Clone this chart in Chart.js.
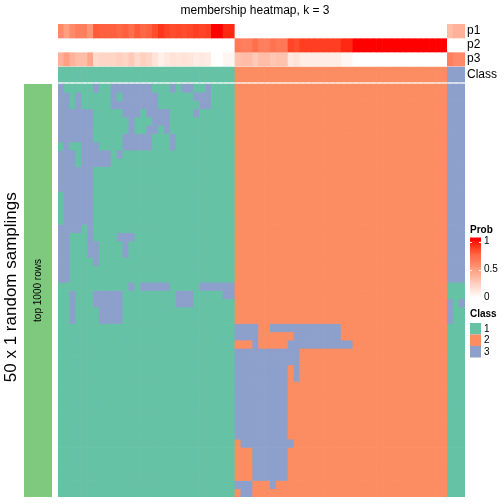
<!DOCTYPE html>
<html>
<head>
<meta charset="utf-8">
<script src="https://cdn.jsdelivr.net/npm/chart.js@4.4.0/dist/chart.umd.min.js"></script>
<style>
  html, body { margin: 0; padding: 0; background: #fff; }
  #wrap { position: relative; width: 504px; height: 504px; }
  #heat { position: absolute; left: 0; top: 0; }
  #side { position: absolute; left: 24px; top: 84px; }
</style>
</head>
<body>
<div id="wrap">
  <canvas id="heat" width="504" height="504"></canvas>
  <canvas id="side" width="28" height="413"></canvas>
</div>
<script>
// consensus class of each sample (column order of the heatmap)
const columnClass = [
  1,1,1,1,1,1,1,1,1,1, 1,1,1,1,1,1,1,1,1,1, 1,1,1,1,1,1,1,1,1,1,
  2,2,2,2,2,2,2,2,2,2, 2,2,2,2,2,2,2,2,2,2, 2,2,2,2,2,2,2,2,2,2, 2,2,2,2,2,2,
  3,3,3
];

// membership probabilities per sample
const p1 = [
  0.60,0.50,0.60,0.65,0.65,0.55,0.80,0.78,0.78,0.78, 0.75,0.78,0.72,0.80,0.75,0.78,0.85,0.92,0.88,0.85,
  0.87,0.85,0.87,0.90,0.88,0.90,1.00,1.00,0.95,0.95,
  0,0,0,0,0,0,0,0,0,0, 0,0,0,0,0,0,0,0,0,0, 0,0,0,0,0,0,0,0,0,0, 0,0,0,0,0,0,
  0.35,0.40,0.40
];
const p2 = [
  0,0,0,0,0,0,0,0,0,0, 0,0,0,0,0,0,0,0,0,0, 0,0,0,0,0,0,0,0,0,0,
  0.68,0.65,0.65,0.72,0.65,0.65,0.70,0.68,0.68,0.88, 0.85,0.90,0.90,0.90,0.90,0.90,0.90,0.90,0.95,0.95,
  1,1,1,1,1,1,1,1,1,1, 1,1,1,1,1,1,
  0,0,0
];
const p3 = [
  0.40,0.50,0.40,0.35,0.35,0.45,0.20,0.22,0.22,0.22, 0.25,0.22,0.28,0.20,0.25,0.22,0.15,0.08,0.12,0.15,
  0.13,0.15,0.13,0.10,0.12,0.10,0.00,0.00,0.05,0.05,
  0.32,0.35,0.35,0.28,0.35,0.35,0.30,0.32,0.32,0.12, 0.15,0.10,0.10,0.10,0.10,0.10,0.10,0.10,0.05,0.05,
  0,0,0,0,0,0,0,0,0,0, 0,0,0,0,0,0,
  0.65,0.60,0.60
];

// class assigned in each of the 50 random samplings, run-length coded [class, count] per row
const samplingRuns = [
  [[3,1],[1,5],[3,1],[1,2],[3,7],[1,3],[3,1],[1,1],[3,2],[1,2],[3,1],[1,4],[2,36],[3,3]],
  [[3,2],[1,1],[3,1],[1,5],[3,1],[1,1],[3,6],[1,6],[3,3],[1,4],[2,36],[3,3]],
  [[3,2],[1,1],[3,1],[1,5],[3,8],[1,7],[3,2],[1,4],[2,36],[3,3]],
  [[3,6],[1,5],[3,3],[1,1],[3,4],[1,4],[3,1],[1,6],[2,36],[3,3]],
  [[3,6],[1,6],[3,1],[1,3],[3,3],[1,11],[2,36],[3,3]],
  [[3,6],[1,6],[3,1],[1,2],[3,2],[1,1],[3,1],[1,11],[2,36],[3,3]],
  [[3,6],[1,5],[3,5],[1,3],[3,1],[1,10],[2,36],[3,3]],
  [[1,1],[3,1],[1,2],[3,3],[1,4],[3,5],[1,3],[3,1],[1,10],[2,36],[3,3]],
  [[3,3],[1,1],[3,5],[1,1],[3,1],[1,19],[2,36],[3,3]],
  [[3,3],[1,1],[3,5],[1,21],[2,36],[3,3]],
  [[3,6],[1,24],[2,36],[3,3]],
  [[3,6],[1,24],[2,36],[3,3]],
  [[3,6],[1,24],[2,36],[3,3]],
  [[1,1],[3,5],[1,24],[2,36],[3,3]],
  [[1,1],[3,5],[1,24],[2,36],[3,3]],
  [[1,1],[3,5],[1,24],[2,36],[3,3]],
  [[1,1],[3,5],[1,24],[2,36],[3,3]],
  [[3,4],[1,1],[3,1],[1,24],[2,36],[3,3]],
  [[3,2],[1,3],[3,1],[1,4],[3,3],[1,17],[2,36],[3,3]],
  [[3,2],[1,3],[3,2],[1,4],[3,1],[1,18],[2,36],[3,3]],
  [[3,2],[1,3],[3,2],[1,4],[3,1],[1,18],[2,36],[3,3]],
  [[3,2],[1,4],[3,1],[1,23],[2,36],[3,3]],
  [[3,2],[1,28],[2,36],[3,3]],
  [[3,2],[1,28],[2,36],[3,3]],
  [[1,12],[3,1],[1,1],[3,5],[1,5],[3,6],[2,36],[1,3]],
  [[1,2],[3,1],[1,3],[3,5],[1,9],[3,3],[1,5],[3,2],[2,36],[1,3]],
  [[1,2],[3,1],[1,3],[3,5],[1,9],[3,3],[1,7],[2,36],[3,1],[1,1],[3,1]],
  [[1,2],[3,1],[1,4],[3,4],[1,19],[2,36],[3,1],[1,2]],
  [[1,2],[3,1],[1,4],[3,4],[1,19],[2,36],[3,1],[1,2]],
  [[1,30],[3,4],[2,2],[3,12],[2,18],[1,3]],
  [[1,30],[3,4],[2,6],[3,8],[2,18],[1,3]],
  [[1,30],[2,3],[3,1],[2,5],[3,11],[2,16],[1,3]],
  [[1,30],[3,11],[2,25],[1,3]],
  [[1,30],[3,11],[2,25],[1,3]],
  [[1,30],[3,9],[2,1],[3,1],[2,25],[1,3]],
  [[1,30],[3,9],[2,1],[3,1],[2,25],[1,3]],
  [[1,30],[3,9],[2,27],[1,3]],
  [[1,30],[3,9],[2,27],[1,3]],
  [[1,30],[3,9],[2,27],[1,3]],
  [[1,30],[3,9],[2,27],[1,3]],
  [[1,30],[3,9],[2,27],[1,3]],
  [[1,30],[3,9],[2,27],[1,3]],
  [[1,30],[3,9],[2,27],[1,3]],
  [[1,30],[2,1],[3,9],[2,26],[1,3]],
  [[1,30],[2,3],[3,6],[2,27],[1,3]],
  [[1,30],[2,3],[3,6],[2,27],[1,3]],
  [[1,30],[2,3],[3,6],[2,27],[1,3]],
  [[1,30],[2,3],[3,6],[2,27],[1,3]],
  [[1,30],[3,3],[2,3],[3,1],[2,29],[1,3]],
  [[1,30],[2,1],[3,2],[2,33],[1,3]]
];

const classLevels = ['1', '2', '3'];
const probTicks = [0, 0.5, 1];

// ---- styles ----
const classColors = { 1: '#66C2A5', 2: '#FC8D62', 3: '#8DA0CB' };
const sideColor = '#7FC97F';
const FONT = '"Liberation Sans", Arial, Helvetica, sans-serif';

// white -> red ramp interpolated in LAB (like circlize::colorRamp2)
function toLin(c) { c /= 255; return c <= 0.04045 ? c / 12.92 : Math.pow((c + 0.055) / 1.055, 2.4); }
function fromLin(c) {
  const v = c <= 0.0031308 ? 12.92 * c : 1.055 * Math.pow(c, 1 / 2.4) - 0.055;
  return Math.round(Math.max(0, Math.min(1, v)) * 255);
}
function rgbToLab([r, g, b]) {
  const R = toLin(r), G = toLin(g), B = toLin(b);
  const X = (0.4124 * R + 0.3576 * G + 0.1805 * B) / 0.95047;
  const Y = 0.2126 * R + 0.7152 * G + 0.0722 * B;
  const Z = (0.0193 * R + 0.1192 * G + 0.9505 * B) / 1.08883;
  const f = t => t > 216 / 24389 ? Math.cbrt(t) : (24389 / 27 * t + 16) / 116;
  const fx = f(X), fy = f(Y), fz = f(Z);
  return [116 * fy - 16, 500 * (fx - fy), 200 * (fy - fz)];
}
function labToRgb([L, a, b]) {
  const fy = (L + 16) / 116, fx = fy + a / 500, fz = fy - b / 200;
  const inv = t => t * t * t > 216 / 24389 ? t * t * t : (116 * t - 16) / (24389 / 27);
  const X = inv(fx) * 0.95047, Y = inv(fy), Z = inv(fz) * 1.08883;
  const R = 3.2406 * X - 1.5372 * Y - 0.4986 * Z;
  const G = -0.9689 * X + 1.8758 * Y + 0.0415 * Z;
  const B = 0.0557 * X - 0.2040 * Y + 1.0570 * Z;
  return [fromLin(R), fromLin(G), fromLin(B)];
}
const labLo = rgbToLab([255, 255, 255]), labHi = rgbToLab([255, 0, 0]);
function probColor(v) {
  const lab = labLo.map((l, i) => l + (labHi[i] - l) * v);
  const [r, g, b] = labToRgb(lab);
  return `rgb(${r},${g},${b})`;
}

// ---- layout (y in heatmap-row units, row 0 at top) ----
const bands = {
  p1: [-7.264, -5.569],
  p2: [-5.569, -3.874],
  p3: [-3.874, -2.179],
  Class: [-2.058, -0.242]
};

const sampleLabels = columnClass.map((_, i) => 'S' + (i + 1));

function expandRuns(runs) {
  const out = [];
  runs.forEach(([cls, n]) => { for (let k = 0; k < n; k++) out.push(cls); });
  if (out.length !== columnClass.length) console.warn('row length', out.length);
  return out;
}

const datasets = [];
[['p1', p1], ['p2', p2], ['p3', p3]].forEach(([name, vals]) => {
  datasets.push({
    label: name,
    data: vals.map(() => bands[name]),
    backgroundColor: vals.map(probColor)
  });
});
datasets.push({
  label: 'Class',
  data: columnClass.map(() => bands.Class),
  backgroundColor: columnClass.map(c => classColors[c])
});
samplingRuns.forEach((runs, r) => {
  const cls = expandRuns(runs);
  datasets.push({
    label: 'sampling ' + (r + 1),
    data: cls.map(() => [r, r + 1]),
    backgroundColor: cls.map(c => classColors[c])
  });
});

const textPlugin = {
  id: 'heatText',
  afterDraw(chart) {
    const ctx = chart.ctx;
    const y = chart.scales.y;
    const area = chart.chartArea;
    ctx.save();
    ctx.fillStyle = '#000';
    ctx.textBaseline = 'middle';

    // title
    ctx.font = '12px ' + FONT;
    ctx.textAlign = 'center';
    ctx.fillText('membership heatmap, k = 3', 255, 11);

    // annotation names
    ctx.textAlign = 'left';
    ctx.font = '12px ' + FONT;
    Object.keys(bands).forEach(name => {
      const yc = y.getPixelForValue((bands[name][0] + bands[name][1]) / 2);
      ctx.fillText(name, area.right + 2, yc);
    });

    // row title
    ctx.save();
    ctx.translate(11, y.getPixelForValue(24.6));
    ctx.rotate(-Math.PI / 2);
    ctx.textAlign = 'center';
    ctx.font = '17px ' + FONT;
    ctx.fillText('50 x 1 random samplings', 0, 0);
    ctx.restore();

    // Prob legend
    const lx = 470, bw = 11, top = 241.5, bottom = 297.5;
    ctx.font = 'bold 10px ' + FONT;
    ctx.fillText('Prob', lx, 230);
    for (let i = 0; i < 60; i++) {
      const v0 = i / 60, v1 = (i + 1) / 60;
      ctx.fillStyle = probColor((v0 + v1) / 2);
      const ya = bottom - (bottom - top) * v1, yb = bottom - (bottom - top) * v0;
      ctx.fillRect(lx, ya - 0.3, bw, yb - ya + 0.6);
    }
    ctx.fillStyle = probColor(1);
    ctx.fillRect(lx, top - 4, bw, 4);
    ctx.fillStyle = probColor(0);
    ctx.fillRect(lx, bottom, bw, 4);
    ctx.strokeStyle = '#fff';
    ctx.lineWidth = 1;
    probTicks.forEach(t => {
      const ty = Math.round(bottom - (bottom - top) * t) + 0.5;
      ctx.beginPath();
      ctx.moveTo(lx, ty); ctx.lineTo(lx + 2, ty);
      ctx.moveTo(lx + bw - 2, ty); ctx.lineTo(lx + bw, ty);
      ctx.stroke();
    });
    ctx.fillStyle = '#000';
    ctx.font = '10px ' + FONT;
    probTicks.forEach(t => {
      ctx.fillText(String(t), lx + bw + 3, bottom - (bottom - top) * t);
    });

    // Class legend
    ctx.font = 'bold 10px ' + FONT;
    ctx.fillText('Class', lx, 314);
    classLevels.forEach((lev, i) => {
      const sy = 323 + i * 11.5;
      ctx.fillStyle = classColors[lev];
      ctx.fillRect(lx, sy, bw, 11.5);
      ctx.fillStyle = '#000';
      ctx.font = '10px ' + FONT;
      ctx.fillText(lev, lx + bw + 3, sy + 5.75);
    });
    ctx.restore();
  }
};

new Chart(document.getElementById('heat'), {
  type: 'bar',
  data: { labels: sampleLabels, datasets },
  options: {
    responsive: false,
    animation: false,
    layout: { padding: { left: 58, right: 39, top: 24, bottom: 7 } },
    datasets: { bar: { grouped: false, barPercentage: 1, categoryPercentage: 1, borderWidth: 0 } },
    scales: {
      x: { display: false },
      y: { display: false, reverse: true, min: bands.p1[0], max: samplingRuns.length }
    },
    plugins: { legend: { display: false }, tooltip: { enabled: false }, title: { display: false } }
  },
  plugins: [textPlugin]
});

// left row annotation bar
const sideText = {
  id: 'sideText',
  afterDraw(chart) {
    const ctx = chart.ctx, a = chart.chartArea;
    ctx.save();
    ctx.translate((a.left + a.right) / 2, (a.top + a.bottom) / 2);
    ctx.rotate(-Math.PI / 2);
    ctx.fillStyle = '#000';
    ctx.textAlign = 'center';
    ctx.textBaseline = 'middle';
    ctx.font = '10px ' + FONT;
    ctx.fillText('top 1000 rows', 0, 0);
    ctx.restore();
  }
};
new Chart(document.getElementById('side'), {
  type: 'bar',
  data: { labels: ['top 1000 rows'], datasets: [{ data: [1], backgroundColor: sideColor, borderWidth: 0, barPercentage: 1, categoryPercentage: 1 }] },
  options: {
    responsive: false,
    animation: false,
    layout: { padding: 0 },
    scales: { x: { display: false }, y: { display: false, min: 0, max: 1 } },
    plugins: { legend: { display: false }, tooltip: { enabled: false } }
  },
  plugins: [sideText]
});
</script>
</body>
</html>
